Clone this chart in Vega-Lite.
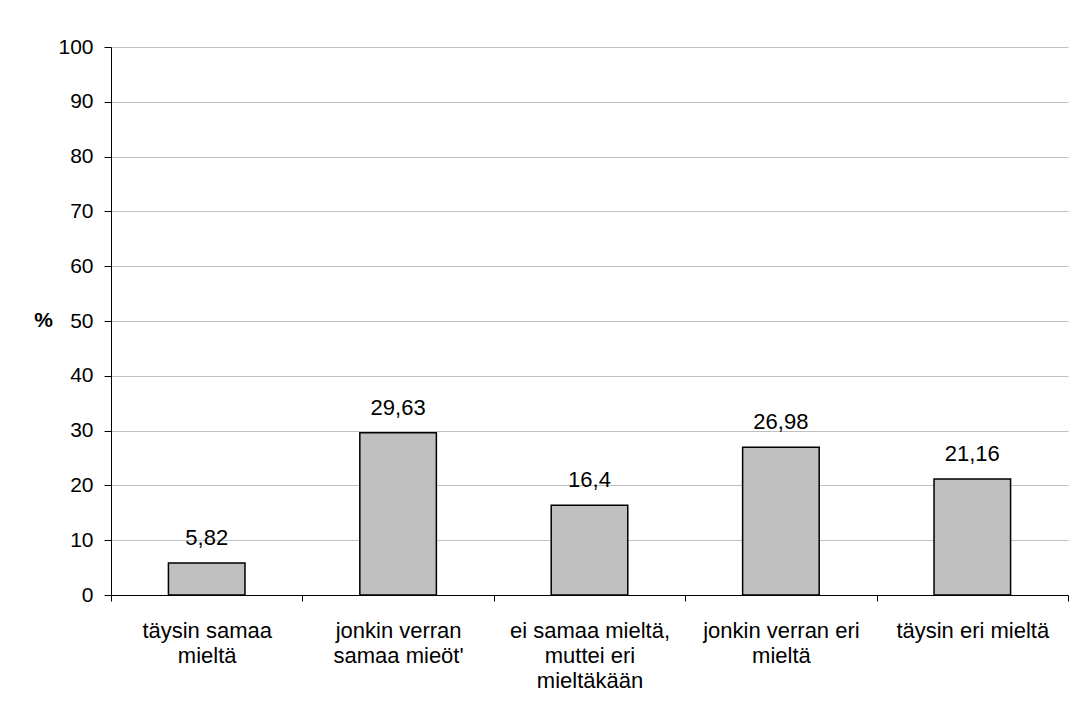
{
  "$schema": "https://vega.github.io/schema/vega-lite/v6.json",
  "width": 957,
  "height": 548,
  "autosize": {"type": "none"},
  "padding": {"left": 111, "top": 47, "right": 5, "bottom": 124},
  "background": "white",
  "config": {
    "font": "Liberation Sans",
    "view": {"stroke": null}
  },
  "data": {
    "values": [
      {"category": "täysin samaa mieltä", "percent": 5.82, "label": "5,82"},
      {"category": "jonkin verran samaa mieöt'", "percent": 29.63, "label": "29,63"},
      {"category": "ei samaa mieltä, muttei eri mieltäkään", "percent": 16.4, "label": "16,4"},
      {"category": "jonkin verran eri mieltä", "percent": 26.98, "label": "26,98"},
      {"category": "täysin eri mieltä", "percent": 21.16, "label": "21,16"}
    ]
  },
  "encoding": {
    "x": {
      "field": "category",
      "type": "nominal",
      "sort": null,
      "scale": {"paddingInner": 0, "paddingOuter": 0},
      "axis": {
        "title": null,
        "labelAngle": 0,
        "labelFontSize": 22,
        "labelColor": "black",
        "labelLineHeight": 25,
        "labelPadding": 36,
        "labelBaseline": "alphabetic",
        "tickBand": "extent",
        "tickSize": 6,
        "tickColor": "black",
        "domainColor": "black",
        "labelExpr": "datum.value == 'täysin samaa mieltä' ? ['täysin samaa', 'mieltä'] : datum.value == \"jonkin verran samaa mieöt'\" ? ['jonkin verran', \"samaa mieöt'\"] : datum.value == 'ei samaa mieltä, muttei eri mieltäkään' ? ['ei samaa mieltä,', 'muttei eri', 'mieltäkään'] : datum.value == 'jonkin verran eri mieltä' ? ['jonkin verran eri', 'mieltä'] : datum.value"
      }
    },
    "y": {
      "field": "percent",
      "type": "quantitative",
      "scale": {"domain": [0, 100], "nice": false},
      "axis": {
        "title": "%",
        "titleAngle": 0,
        "titleFontSize": 21,
        "titleFontWeight": "bold",
        "titleColor": "black",
        "titleX": -68,
        "titleY": 273,
        "titleAlign": "center",
        "titleBaseline": "middle",
        "values": [0, 10, 20, 30, 40, 50, 60, 70, 80, 90, 100],
        "labelFontSize": 21,
        "labelColor": "black",
        "labelPadding": 11,
        "tickSize": 7,
        "tickColor": "black",
        "domainColor": "black",
        "grid": true,
        "gridColor": "#c0c0c0",
        "gridWidth": 1
      }
    }
  },
  "layer": [
    {
      "mark": {"type": "bar", "width": {"band": 0.4}, "fill": "#c0c0c0", "stroke": "black", "strokeWidth": 1.5}
    },
    {
      "mark": {"type": "text", "fontSize": 22, "color": "black", "baseline": "alphabetic", "dy": -18},
      "encoding": {"text": {"field": "label"}}
    }
  ]
}
